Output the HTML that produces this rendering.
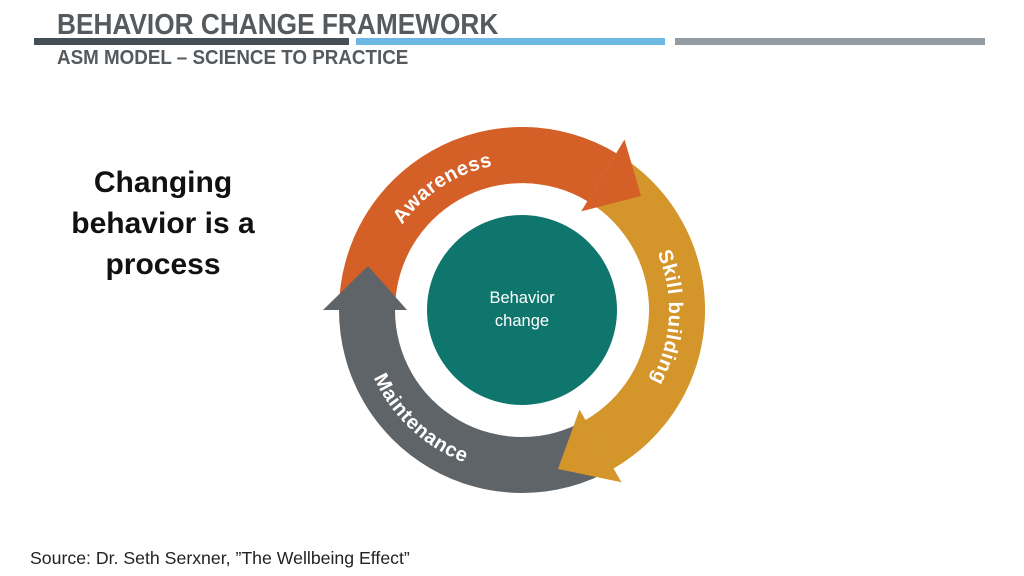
<!DOCTYPE html>
<html><head><meta charset="utf-8"><style>
html,body{margin:0;padding:0;background:#fff;}
body{width:1024px;height:576px;position:relative;overflow:hidden;font-family:"Liberation Sans",sans-serif;}
.t{position:absolute;white-space:nowrap;transform-origin:0 0;}
</style></head><body>
<div class="t" style="left:57px;top:9px;font-size:29px;font-weight:bold;color:#555a5e;transform:scaleX(0.905);">BEHAVIOR CHANGE FRAMEWORK</div>
<div style="position:absolute;left:34px;top:38px;width:315px;height:7px;background:#454f56;"></div>
<div style="position:absolute;left:356px;top:38px;width:309px;height:7px;background:#6cb7e4;"></div>
<div style="position:absolute;left:675px;top:38px;width:310px;height:7px;background:#939ba3;"></div>
<div class="t" style="left:57px;top:47px;font-size:20px;font-weight:bold;color:#555a5e;transform:scaleX(0.94);">ASM MODEL – SCIENCE TO PRACTICE</div>
<div style="position:absolute;left:25px;top:162px;width:276px;text-align:center;font-size:30px;font-weight:bold;line-height:41px;color:#111;">Changing<br>behavior is a<br>process</div>
<div class="t" style="left:30px;top:548px;font-size:17.7px;color:#222;">Source: Dr. Seth Serxner, ”The Wellbeing Effect”</div>
<svg style="position:absolute;left:0;top:0" width="1024" height="576">
<defs>
<path id="pa" d="M375.1,304.9 A147,147 0 0 1 577.1,173.7"/>
<path id="ps" d="M612.5,194.2 A147,147 0 0 1 599.9,434.7"/>
<path id="pm" d="M361.5,281.7 A163,163 0 0 0 561.4,468.2"/>
</defs>
<path d="M339,310 A183,183 0 0 1 616.3,153.2 L587.4,201.2 A127,127 0 0 0 395,310 Z" fill="#d45f27"/>
<path d="M627,160.1 A183,183 0 0 1 613.5,468.5 L585.5,420 A127,127 0 0 0 594.9,206 Z" fill="#d4952b"/>
<path d="M613.5,468.5 A183,183 0 0 1 339,310 L395,310 A127,127 0 0 0 585.5,420 Z" fill="#5f6468"/>
<polygon points="624.5,139.5 581.2,211.4 641,196" fill="#d45f27"/>
<polygon points="621.5,482.3 579.5,409.6 558,469" fill="#d4952b"/>
<polygon points="323,310 407,310 368,266" fill="#5f6468"/>
<circle cx="522" cy="310" r="95" fill="#0e766c"/>
<text x="522" y="303" fill="#fff" font-size="16.5" text-anchor="middle" font-family="Liberation Sans, sans-serif">Behavior</text>
<text x="522" y="326" fill="#fff" font-size="16.5" text-anchor="middle" font-family="Liberation Sans, sans-serif">change</text>
<g fill="#fff" font-size="20" font-weight="bold" font-family="Liberation Sans, sans-serif" letter-spacing="0.6">
<text><textPath href="#pa" startOffset="50%" text-anchor="middle">Awareness</textPath></text>
<text><textPath href="#ps" startOffset="50%" text-anchor="middle">Skill building</textPath></text>
<text><textPath href="#pm" startOffset="50%" text-anchor="middle">Maintenance</textPath></text>
</g>
</svg>
</body></html>
